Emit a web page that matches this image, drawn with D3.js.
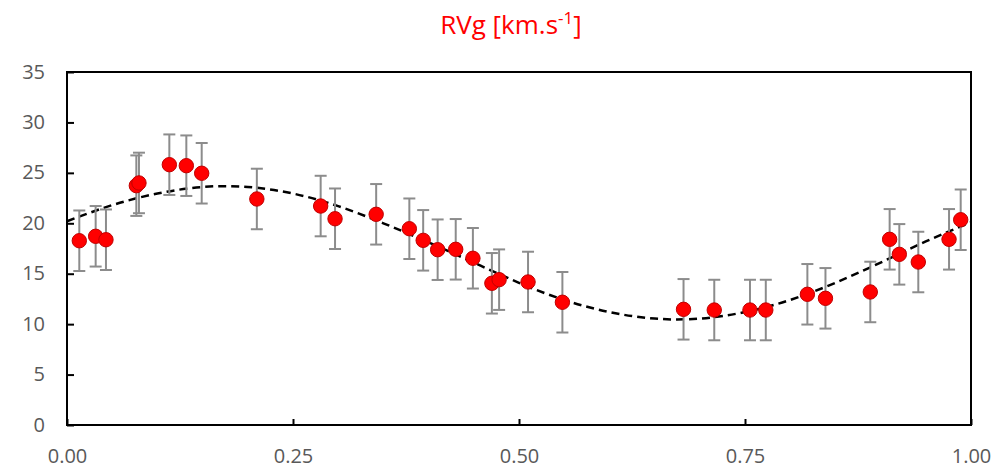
<!DOCTYPE html>
<html><head><meta charset="utf-8">
<script src="https://cdn.jsdelivr.net/npm/d3@7"></script>
<style>body{margin:0;background:#fff;}svg{display:block;}</style>
</head><body>
<svg id="c" width="994" height="469"></svg>
<script>
const phase = [0.0136,0.0317,0.0431,0.0767,0.0796,0.1132,0.132,0.149,0.210,0.2806,0.2965,0.342,0.3787,0.394,0.410,0.430,0.449,0.470,0.478,0.510,0.548,0.682,0.716,0.7555,0.773,0.819,0.839,0.8886,0.910,0.9207,0.9417,0.9757,0.9886];
const rv = [18.27,18.71,18.37,23.73,24.0,25.81,25.71,24.96,22.41,21.71,20.45,20.89,19.46,18.31,17.38,17.42,16.53,14.05,14.41,14.18,12.17,11.47,11.40,11.40,11.40,12.96,12.56,13.19,18.41,16.92,16.16,18.41,20.35];
const rvErr = [3,3,3,3,3,3,3,3,3,3,3,3,3,3,3,3,3,3,3,3,3,3,3,3,3,3,3,3,3,3,3,3,3];
const fitPhase = [0,0.05,0.10,0.15,0.20,0.25,0.30,0.35,0.40,0.45,0.50,0.55,0.60,0.65,0.70,0.75,0.80,0.85,0.90,0.95,1.00];
const fitRV = [20.2,21.8,22.95,23.6,23.6,22.95,21.7,20.0,18.1,16.1,14.1,12.4,11.2,10.55,10.55,11.2,12.4,14.1,16.1,18.2,20.1];
const xTicks = [0,0.25,0.5,0.75,1];
const yTicks = [0,5,10,15,20,25,30,35];

const svg = d3.select("#c");
const L=67, R=971, T=72, B=425;
const x = d3.scaleLinear().domain([0,1]).range([L,R]);
const y = d3.scaleLinear().domain([0,35]).range([B,T]);

// title
const title = svg.append("text").attr("x",511).attr("y",34).attr("text-anchor","middle")
  .attr("fill","#ff0000").style("font-family","'Open Sans'").style("font-size","26px");
title.append("tspan").text("RVg [km.s");
title.append("tspan").attr("dy",-10).style("font-size","17px").text("-1");
title.append("tspan").attr("dy",10).text("]");

// axes
const fmtX = d3.format(".2f");
const gx = svg.append("g").attr("transform",`translate(0,${B})`)
  .call(d3.axisBottom(x).tickValues(xTicks).tickFormat(fmtX).tickSizeInner(-6).tickSizeOuter(0).tickPadding(24));
const gy = svg.append("g").attr("transform",`translate(${L},0)`)
  .call(d3.axisLeft(y).tickValues(yTicks).tickSizeInner(-7).tickSizeOuter(0).tickPadding(22));
[gx,gy].forEach(g=>{
  g.select(".domain").remove();
  g.selectAll(".tick line").attr("stroke","#000").attr("stroke-width",2);
  g.selectAll(".tick text").attr("fill","#595959").style("font-family","'Open Sans'").style("font-size","20px");
});
gy.selectAll(".tick text").attr("dy","0.3em");
gx.selectAll(".tick text").attr("dy","0.71em");

// frame
svg.append("rect").attr("x",L).attr("y",T).attr("width",R-L).attr("height",B-T)
  .attr("fill","none").attr("stroke","#000").attr("stroke-width",2);

// fit curve
const line = d3.line().x((d,i)=>x(fitPhase[i])).y(d=>y(d)).curve(d3.curveNatural);
svg.append("path").attr("d",line(fitRV)).attr("fill","none").attr("stroke","#000")
  .attr("stroke-width",2.5).attr("stroke-dasharray","8,5");

// error bars
const data = phase.map((p,i)=>({p, v:rv[i], e:rvErr[i]}));
const eb = svg.append("g").attr("stroke","#8c8c8c").attr("stroke-width",2);
data.forEach(d=>{
  eb.append("line").attr("x1",x(d.p)).attr("x2",x(d.p)).attr("y1",y(d.v-d.e)).attr("y2",y(d.v+d.e));
  eb.append("line").attr("x1",x(d.p)-6).attr("x2",x(d.p)+6).attr("y1",y(d.v-d.e)).attr("y2",y(d.v-d.e));
  eb.append("line").attr("x1",x(d.p)-6).attr("x2",x(d.p)+6).attr("y1",y(d.v+d.e)).attr("y2",y(d.v+d.e));
});

// markers
svg.append("g").selectAll("circle").data(data).join("circle")
  .attr("cx",d=>x(d.p)).attr("cy",d=>y(d.v)).attr("r",7.2)
  .attr("fill","#ff0000").attr("stroke","#c00000").attr("stroke-width",1);
</script>
</body></html>
